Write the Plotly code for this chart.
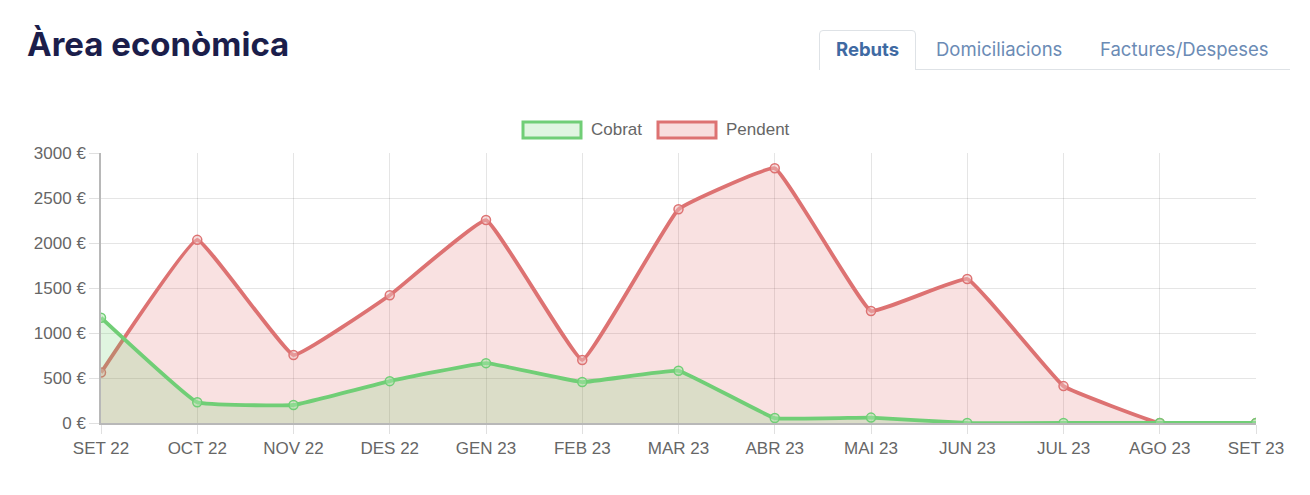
import plotly.graph_objects as go

months = ["SET 22", "OCT 22", "NOV 22", "DES 22", "GEN 23", "FEB 23", "MAR 23",
          "ABR 23", "MAI 23", "JUN 23", "JUL 23", "AGO 23", "SET 23"]
cobrat = [1170, 230, 200, 465, 665, 455, 580, 55, 60, 0, 0, 0, 0]
pendent = [560, 2035, 755, 1420, 2255, 700, 2375, 2830, 1245, 1600, 410, 0, 0]
y_ticks = [0, 500, 1000, 1500, 2000, 2500, 3000]
y_labels = [f"{v} €" for v in y_ticks]

W, H = 1310, 495
L, R, T, B = 101, 54, 153, 72
PW, PH = W - L - R, H - T - B

def px(x):
    return (x - L) / PW

def py(y):
    return 1 - (y - T) / PH

GREEN = "rgb(112,206,118)"
GREEN_FILL = "rgba(100,205,100,0.2)"
RED = "rgb(221,114,114)"
RED_FILL = "rgba(222,90,90,0.18)"

x_idx = list(range(len(months)))

fig = go.Figure()
fig.add_trace(go.Scatter(
    x=x_idx, y=pendent, name="Pendent", mode="lines+markers",
    line=dict(color=RED, width=3.8, shape="spline", smoothing=0.25),
    marker=dict(size=9, color="rgba(240,190,190,0.5)", line=dict(color=RED, width=1.5)),
    fill="tozeroy", fillcolor=RED_FILL, showlegend=False,
))
fig.add_trace(go.Scatter(
    x=x_idx, y=cobrat, name="Cobrat", mode="lines+markers",
    line=dict(color=GREEN, width=3.8, shape="spline", smoothing=0.25),
    marker=dict(size=9, color="rgba(170,230,170,0.5)", line=dict(color=GREEN, width=1.5)),
    fill="tozeroy", fillcolor=GREEN_FILL, showlegend=False,
))

font_lbl = dict(family="Liberation Sans, Arial, sans-serif", size=17, color="#666666")

shapes = []
annotations = []

# Title
annotations.append(dict(xref="paper", yref="paper", x=px(25), y=py(44), xanchor="left", yanchor="middle",
                        text="<b>Àrea econòmica</b>", showarrow=False,
                        font=dict(family="Inter, Roboto, sans-serif", size=33, color="#1b1e4b")))

# Tabs
shapes.append(dict(type="path", xref="paper", yref="paper",
                   path=f"M {px(819.5)} {py(70)} L {px(819.5)} {py(34)} Q {px(819.5)} {py(30.5)} {px(823)} {py(30.5)} "
                        f"L {px(912)} {py(30.5)} Q {px(915.5)} {py(30.5)} {px(915.5)} {py(34)} L {px(915.5)} {py(70)}",
                   line=dict(color="#dee2e6", width=1)))
shapes.append(dict(type="line", xref="paper", yref="paper", x0=px(915.5), x1=px(1290), y0=py(69.5), y1=py(69.5),
                   line=dict(color="#dee2e6", width=1)))
tab_font = dict(family="Inter, Roboto, sans-serif", size=18.5)
annotations.append(dict(xref="paper", yref="paper", x=px(867), y=py(49), xanchor="center", yanchor="middle",
                        text="<b>Rebuts</b>", showarrow=False, font=dict(**tab_font, color="#3f6aa3")))
annotations.append(dict(xref="paper", yref="paper", x=px(999), y=py(49), xanchor="center", yanchor="middle",
                        text="Domiciliacions", showarrow=False, font=dict(**tab_font, color="#6b8bb5")))
annotations.append(dict(xref="paper", yref="paper", x=px(1184), y=py(49), xanchor="center", yanchor="middle",
                        text="Factures/Despeses", showarrow=False, font=dict(**tab_font, color="#6b8bb5")))

# Legend
for x0, col, fillc, label in [(523, GREEN, "rgba(100,205,100,0.2)", "Cobrat"),
                              (658, RED, "rgba(222,90,90,0.2)", "Pendent")]:
    shapes.append(dict(type="rect", xref="paper", yref="paper", x0=px(x0), x1=px(x0 + 58),
                       y0=py(122), y1=py(138), line=dict(color=col, width=3), fillcolor=fillc))
    annotations.append(dict(xref="paper", yref="paper", x=px(x0 + 66), y=py(130), xanchor="left", yanchor="middle",
                            text=label, showarrow=False, font=font_lbl))

fig.update_layout(
    width=W, height=H,
    margin=dict(l=L, r=R, t=T, b=B, pad=0),
    paper_bgcolor="white", plot_bgcolor="white",
    shapes=shapes, annotations=annotations,
    xaxis=dict(
        range=[0, len(months) - 1], tickvals=x_idx, ticktext=months,
        showgrid=True, gridcolor="rgba(0,0,0,0.1)", gridwidth=1,
        ticks="outside", ticklen=9, tickcolor="rgba(0,0,0,0.12)",
        showline=True, linecolor="rgba(0,0,0,0.28)", linewidth=1.5,
        zeroline=False, tickfont=font_lbl, fixedrange=True,
    ),
    yaxis=dict(
        range=[0, 3000], tickvals=y_ticks, ticktext=y_labels,
        showgrid=True, gridcolor="rgba(0,0,0,0.1)", gridwidth=1,
        ticks="outside", ticklen=10, tickcolor="rgba(0,0,0,0.12)",
        showline=True, linecolor="rgba(0,0,0,0.28)", linewidth=1.5,
        zeroline=False, tickfont=font_lbl, fixedrange=True,
    ),
    showlegend=False,
)

fig.write_html("out.html")
